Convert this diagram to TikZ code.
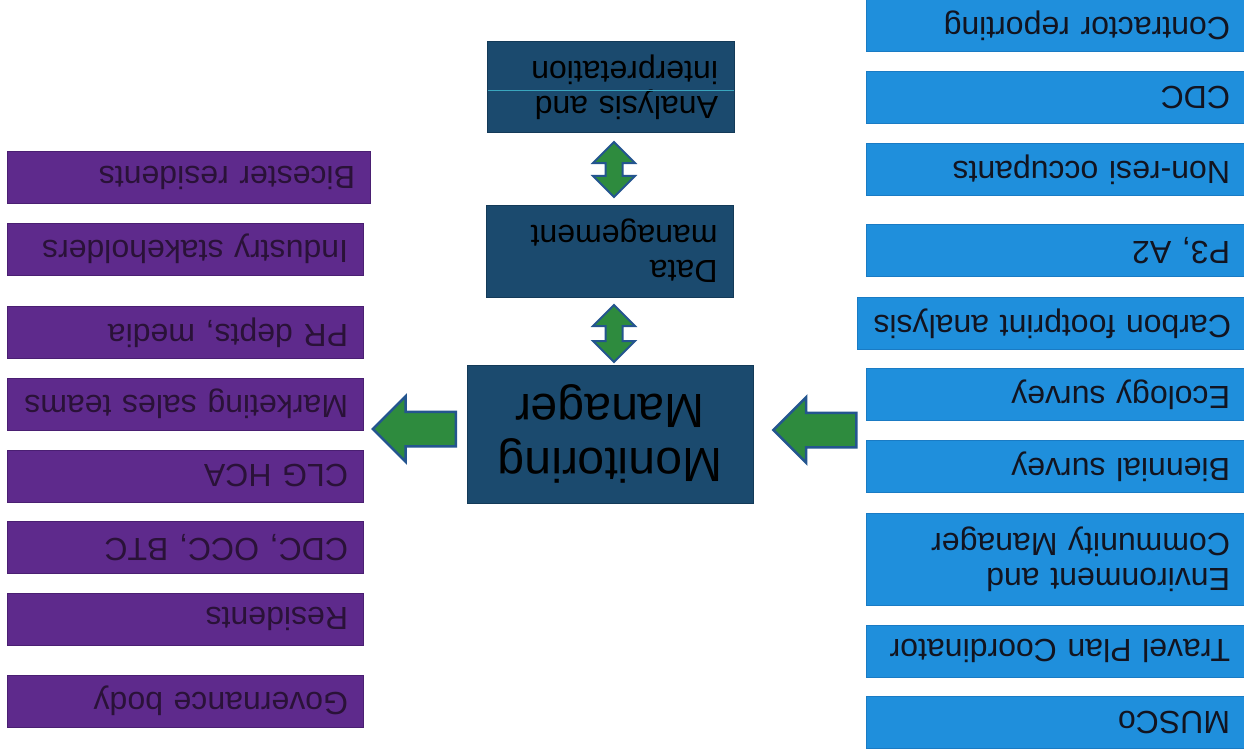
\documentclass[tikz,border=0pt]{standalone}
\usepackage{fontspec}
\setmainfont{Liberation Sans}
\usetikzlibrary{shapes.arrows}
\definecolor{blueA}{HTML}{1F8FDC}
\definecolor{blueB}{HTML}{1A7BC4}
\definecolor{purpA}{HTML}{5E2A8C}
\definecolor{purpB}{HTML}{4A1F72}
\definecolor{navyA}{HTML}{1B4A6E}
\definecolor{navyB}{HTML}{133A58}
\definecolor{greenA}{HTML}{2E8B3E}
\definecolor{arrB}{HTML}{24558F}
\definecolor{textdark}{HTML}{121420}
\definecolor{textpurp}{HTML}{2A1238}
\definecolor{cyanline}{HTML}{3AA6BE}
\begin{document}
\begin{tikzpicture}[x=1pt,y=-1pt,
  box/.style={rotate=180, minimum height=52pt, inner sep=0pt, align=left,
    font=\fontsize{32}{35}\selectfont, line width=1pt},
  bluebox/.style={box, fill=blueA, draw=blueB, text=textdark,
    minimum width=378pt, text width=350pt},
  purpbox/.style={box, fill=purpA, draw=purpB, text=textpurp,
    minimum width=356pt, text width=326pt},
  navybox/.style={box, fill=navyA, draw=navyB, text=black,
    minimum width=247pt, minimum height=91pt, text width=215pt},
  leftarrow/.style={single arrow, rotate=180, fill=greenA, draw=arrB,
    line width=2.5pt, minimum height=83pt, minimum width=63pt,
    single arrow head extend=15.5pt, single arrow tip angle=90, inner sep=16pt},
  updown/.style={double arrow, rotate=90, fill=greenA, draw=arrB,
    line width=2pt, minimum width=40pt,
    double arrow head extend=12.5pt, double arrow tip angle=90, inner sep=7.5pt}
]
\useasboundingbox (0,0) rectangle (1244,754);
\fill[white] (0,0) rectangle (1244,754);

% right column (blue)
\node[bluebox] (r1) at (1055,26) {Contractor reporting};
\node[bluebox] (r2) at (1055,98) {CDC};
\node[bluebox] (r3) at (1055,169.5) {Non-resi occupants};
\node[bluebox] (r4) at (1055,250.5) {P3, A2};
\node[bluebox, minimum width=387pt, text width=361pt] (r5) at (1050.5,323.5) {Carbon footprint analysis};
\node[bluebox] (r6) at (1055,394.5) {Ecology survey};
\node[bluebox] (r7) at (1055,466.5) {Biennial survey};
\node[bluebox, minimum height=92pt] (r8) at (1055,559) {Environment and\\Community Manager};
\node[bluebox] (r9) at (1055,651) {Travel Plan Coordinator};
\node[bluebox] (r10) at (1055,722.5) {MUSCo};

% left column (purple)
\node[purpbox, minimum width=363pt, text width=333pt] (l1) at (188.5,177.5) {Bicester residents};
\node[purpbox] (l2) at (185,249) {Industry stakeholders};
\node[purpbox] (l3) at (185,332.5) {PR depts, media};
\node[purpbox] (l4) at (185,404) {Marketing sales teams};
\node[purpbox] (l5) at (185,476) {CLG HCA};
\node[purpbox] (l6) at (185,547.5) {CDC, OCC, BTC};
\node[purpbox] (l7) at (185,619) {Residents};
\node[purpbox] (l8) at (185,701) {Governance body};

% centre column
\node[navybox] (ana) at (610.5,87.5) {Analysis and\\interpretation};
\draw[cyanline, line width=1pt] (487.5,91) -- (733.5,91);
\node[navybox, minimum height=92pt] (dat) at (610,251) {Data\\management};
\node[navybox, minimum width=286pt, minimum height=138pt, align=center,
  text width=260pt, font=\fontsize{48}{54}\selectfont] (mon) at (610,434) {Monitoring\\Manager};

% arrows
\node[updown, minimum height=55pt] (d1) at (614,169.5) {};
\node[updown, minimum height=57pt] (d2) at (614,333.5) {};
\node[leftarrow] (ain) at (823.5,430) {};
\node[leftarrow] (aout) at (423,429) {};
\end{tikzpicture}
\end{document}
